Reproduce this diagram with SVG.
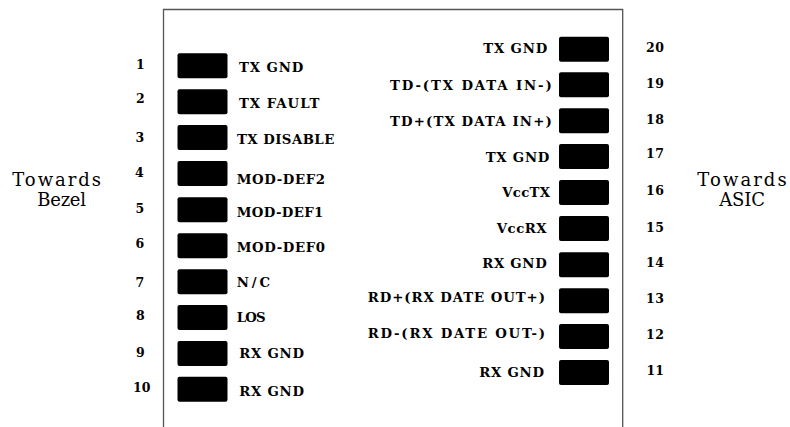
<svg xmlns="http://www.w3.org/2000/svg" width="790" height="427" viewBox="0 0 790 427">
<style>
.pin{fill:#000;}
.lbl{font-family:"DejaVu Serif","Liberation Serif",serif;font-weight:bold;font-size:13.3px;fill:#000;}
.num{font-family:"DejaVu Serif","Liberation Serif",serif;font-weight:bold;font-size:12.5px;fill:#000;}
.side{font-family:"DejaVu Serif","Liberation Serif",serif;font-size:18px;fill:#000;}
.frame{fill:none;stroke:#555;stroke-width:1.3;}
</style>
<rect width="790" height="427" fill="#fff"/>
<path class="frame" d="M163.5,427 V9.5 H622.7 V427"/>

<g id="side-left">
<text class="side" x="12.3" y="186" textLength="88.7" lengthAdjust="spacing">Towards</text>
<text class="side" x="37.3" y="206" textLength="48.7" lengthAdjust="spacing">Bezel</text>
</g>
<g id="side-right">
<text class="side" x="697.3" y="186" textLength="89.4" lengthAdjust="spacing">Towards</text>
<text class="side" x="719.3" y="206" textLength="45.7" lengthAdjust="spacing">ASIC</text>
</g>

<g id="pin1"><text class="num" x="136" y="69.3">1</text><rect class="pin" x="177.5" y="53.3" width="50" height="25" rx="2"/><text class="lbl" x="239" y="72" textLength="64.3" lengthAdjust="spacing">TX GND</text></g>
<g id="pin2"><text class="num" x="136" y="103.3">2</text><rect class="pin" x="177.5" y="89.3" width="50" height="25" rx="2"/><text class="lbl" x="239" y="108.3" textLength="80.3" lengthAdjust="spacing">TX FAULT</text></g>
<g id="pin3"><text class="num" x="135.5" y="142.3">3</text><rect class="pin" x="177.5" y="125" width="50" height="25" rx="2"/><text class="lbl" x="237" y="144.3" textLength="97.3" lengthAdjust="spacing">TX DISABLE</text></g>
<g id="pin4"><text class="num" x="135" y="176.7">4</text><rect class="pin" x="177.5" y="161" width="50" height="25" rx="2"/><text class="lbl" x="236.7" y="184" textLength="88.3" lengthAdjust="spacing">MOD-DEF2</text></g>
<g id="pin5"><text class="num" x="135.5" y="212.7">5</text><rect class="pin" x="177.5" y="197.3" width="50" height="25" rx="2"/><text class="lbl" x="236.7" y="216.7" textLength="86.6" lengthAdjust="spacing">MOD-DEF1</text></g>
<g id="pin6"><text class="num" x="135.5" y="248.3">6</text><rect class="pin" x="177.5" y="233.3" width="50" height="25" rx="2"/><text class="lbl" x="236.7" y="251.7" textLength="88.3" lengthAdjust="spacing">MOD-DEF0</text></g>
<g id="pin7"><text class="num" x="135.5" y="286.7">7</text><rect class="pin" x="177.5" y="269.3" width="50" height="25" rx="2"/><text class="lbl" x="236.7" y="287" textLength="33.3" lengthAdjust="spacing">N/C</text></g>
<g id="pin8"><text class="num" x="136" y="320">8</text><rect class="pin" x="177.5" y="305" width="50" height="25" rx="2"/><text class="lbl" x="236.7" y="321.7" textLength="29" lengthAdjust="spacing">LOS</text></g>
<g id="pin9"><text class="num" x="136" y="356.7">9</text><rect class="pin" x="177.5" y="341" width="50" height="25" rx="2"/><text class="lbl" x="239.3" y="358.3" textLength="64.7" lengthAdjust="spacing">RX GND</text></g>
<g id="pin10"><text class="num" x="133" y="391.7">10</text><rect class="pin" x="177.5" y="376.7" width="50" height="25" rx="2"/><text class="lbl" x="239.3" y="395.7" textLength="64.7" lengthAdjust="spacing">RX GND</text></g>

<g id="pin20"><rect class="pin" x="559" y="36.7" width="50" height="25" rx="2"/><text class="lbl" x="483.3" y="53.3" textLength="64" lengthAdjust="spacing">TX GND</text><text class="num" x="646" y="51.7" textLength="18" lengthAdjust="spacing">20</text></g>
<g id="pin19"><rect class="pin" x="559" y="72.3" width="50" height="25" rx="2"/><text class="lbl" x="390" y="89.7" textLength="161.7" lengthAdjust="spacing">TD-(TX DATA IN-)</text><text class="num" x="646" y="88.3" textLength="18" lengthAdjust="spacing">19</text></g>
<g id="pin18"><rect class="pin" x="559" y="108.3" width="50" height="25" rx="2"/><text class="lbl" x="390" y="126" textLength="161.7" lengthAdjust="spacing">TD+(TX DATA IN+)</text><text class="num" x="646" y="124" textLength="18" lengthAdjust="spacing">18</text></g>
<g id="pin17"><rect class="pin" x="559" y="144" width="50" height="25" rx="2"/><text class="lbl" x="485.7" y="162.3" textLength="63.6" lengthAdjust="spacing">TX GND</text><text class="num" x="646" y="158.3" textLength="18" lengthAdjust="spacing">17</text></g>
<g id="pin16"><rect class="pin" x="559" y="180" width="50" height="25" rx="2"/><text class="lbl" x="502.3" y="197.3" textLength="47.7" lengthAdjust="spacing">VccTX</text><text class="num" x="646" y="195" textLength="18" lengthAdjust="spacing">16</text></g>
<g id="pin15"><rect class="pin" x="559" y="216" width="50" height="25" rx="2"/><text class="lbl" x="496.7" y="232.7" textLength="50" lengthAdjust="spacing">VccRX</text><text class="num" x="646" y="231.7" textLength="18" lengthAdjust="spacing">15</text></g>
<g id="pin14"><rect class="pin" x="559" y="252.3" width="50" height="25" rx="2"/><text class="lbl" x="482.3" y="268.3" textLength="64.4" lengthAdjust="spacing">RX GND</text><text class="num" x="646" y="267.3" textLength="18" lengthAdjust="spacing">14</text></g>
<g id="pin13"><rect class="pin" x="559" y="288.3" width="50" height="25" rx="2"/><text class="lbl" x="367.7" y="302" textLength="177.3" lengthAdjust="spacing">RD+(RX DATE OUT+)</text><text class="num" x="646" y="302.7" textLength="18" lengthAdjust="spacing">13</text></g>
<g id="pin12"><rect class="pin" x="559" y="324" width="50" height="25" rx="2"/><text class="lbl" x="367.7" y="338" textLength="177.3" lengthAdjust="spacing">RD-(RX DATE OUT-)</text><text class="num" x="646" y="339.3" textLength="18" lengthAdjust="spacing">12</text></g>
<g id="pin11"><rect class="pin" x="559" y="360" width="50" height="25" rx="2"/><text class="lbl" x="479.3" y="377.3" textLength="64.7" lengthAdjust="spacing">RX GND</text><text class="num" x="646.5" y="375" textLength="17.5" lengthAdjust="spacing">11</text></g>
</svg>
